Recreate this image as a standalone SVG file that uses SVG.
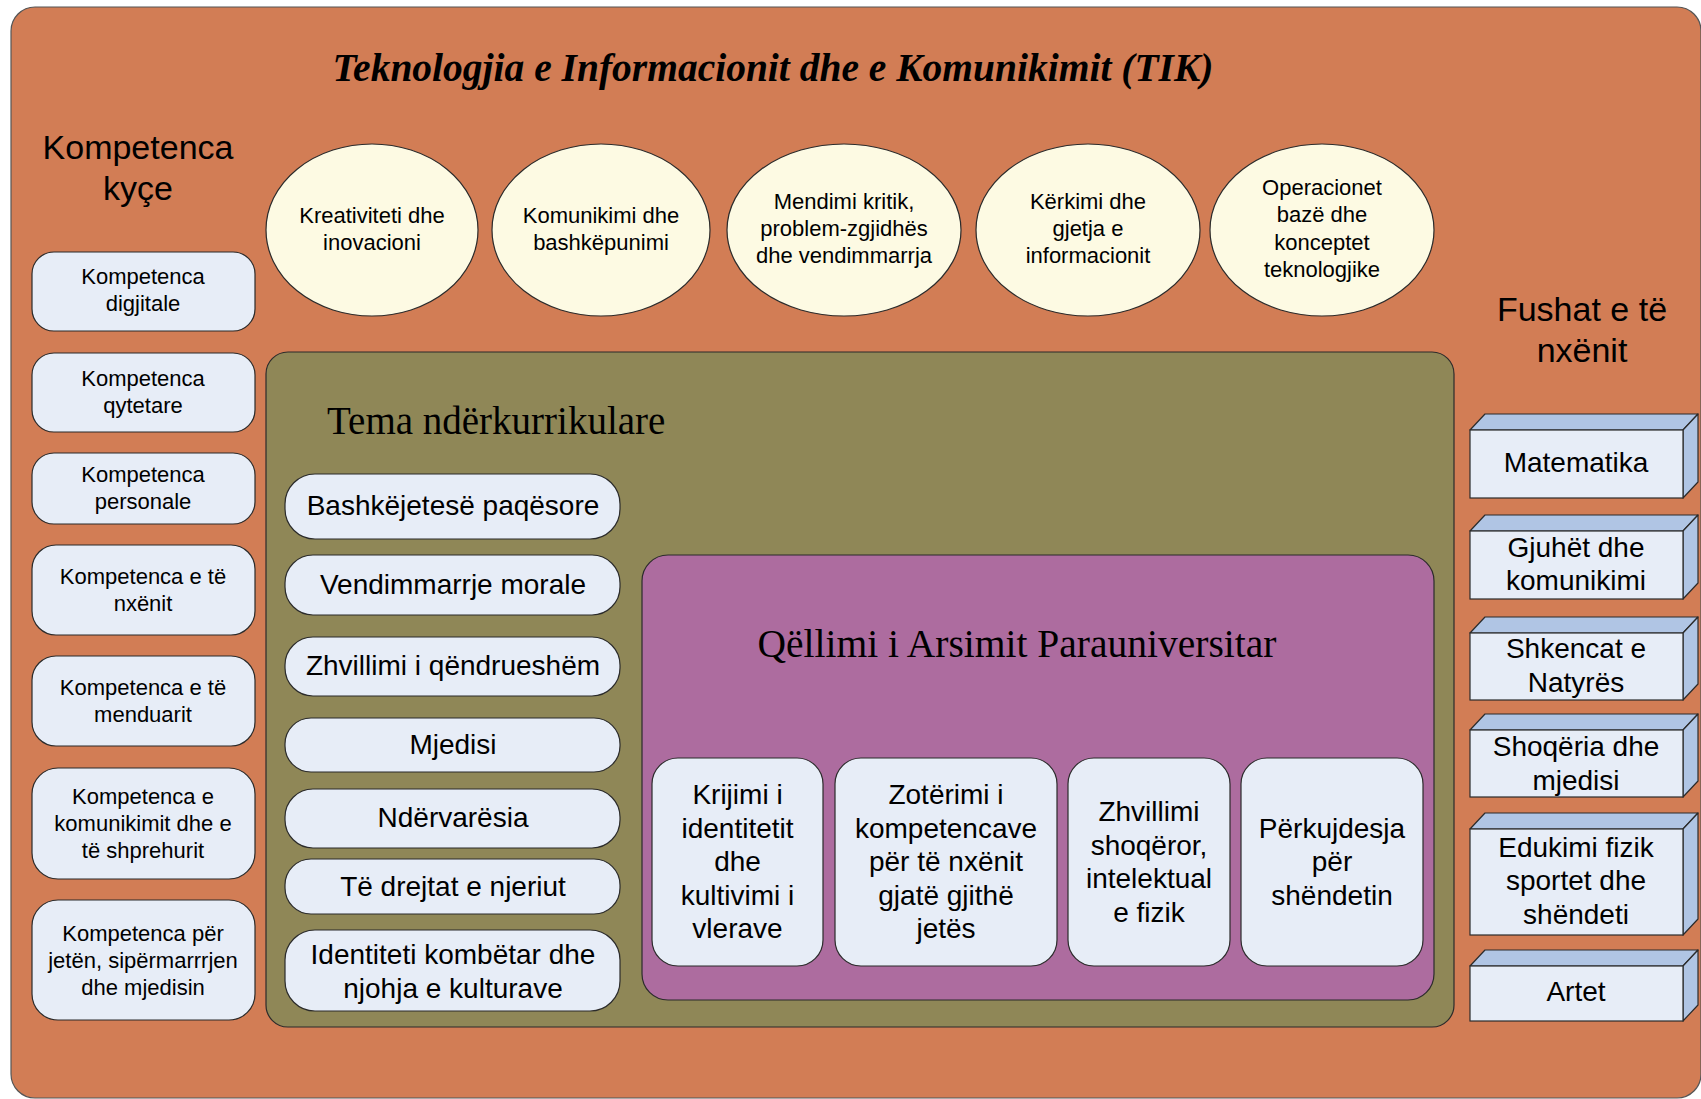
<svg xmlns="http://www.w3.org/2000/svg" width="1701" height="1099" viewBox="0 0 1701 1099">
<style>
.s{font-family:"Liberation Sans",Arial,sans-serif;fill:#000;text-anchor:middle}
.f22{font-size:22px}
.f28{font-size:28px}
.f34{font-size:34px}
.serif{font-family:"Liberation Serif","Times New Roman",serif;fill:#000}
.lb{fill:#E7EDF7;stroke:#2b2b2b;stroke-width:1.2}
.el{fill:#FDFAE3;stroke:#2b2b2b;stroke-width:1.2}
.bx{fill:#B0C5E4;stroke:#2b2b2b;stroke-width:1.2;stroke-linejoin:round}
</style>
<rect width="1701" height="1099" fill="#ffffff"/>
<g id="outer">
<rect x="11" y="7" width="1690" height="1091" rx="24" fill="#D27D55" stroke="#555" stroke-width="1.2"/>
<text class="serif" x="773" y="81" font-size="39.5" font-weight="bold" font-style="italic" text-anchor="middle">Teknologjia e Informacionit dhe e Komunikimit (TIK)</text>
</g>
<g id="kompetenca-header">
<text class="s f34" x="138" y="159">Kompetenca</text>
<text class="s f34" x="138" y="200">kyçe</text>
</g>
<g id="fushat-header">
<text class="s f34" x="1582" y="321">Fushat e të</text>
<text class="s f34" x="1582" y="362">nxënit</text>
</g>
<g id="komp1"><rect class="lb" x="32" y="252" width="223" height="79" rx="22"/><text class="s f22" x="143" y="284">Kompetenca</text><text class="s f22" x="143" y="311">digjitale</text></g>
<g id="komp2"><rect class="lb" x="32" y="353" width="223" height="79" rx="22"/><text class="s f22" x="143" y="386">Kompetenca</text><text class="s f22" x="143" y="413">qytetare</text></g>
<g id="komp3"><rect class="lb" x="32" y="453" width="223" height="71" rx="22"/><text class="s f22" x="143" y="482">Kompetenca</text><text class="s f22" x="143" y="509">personale</text></g>
<g id="komp4"><rect class="lb" x="32" y="545" width="223" height="90" rx="24"/><text class="s f22" x="143" y="584">Kompetenca e të</text><text class="s f22" x="143" y="611">nxënit</text></g>
<g id="komp5"><rect class="lb" x="32" y="656" width="223" height="90" rx="24"/><text class="s f22" x="143" y="695">Kompetenca e të</text><text class="s f22" x="143" y="722">menduarit</text></g>
<g id="komp6"><rect class="lb" x="32" y="768" width="223" height="111" rx="26"/><text class="s f22" x="143" y="804">Kompetenca e</text><text class="s f22" x="143" y="831">komunikimit dhe e</text><text class="s f22" x="143" y="858">të shprehurit</text></g>
<g id="komp7"><rect class="lb" x="32" y="900" width="223" height="120" rx="26"/><text class="s f22" x="143" y="941">Kompetenca për</text><text class="s f22" x="143" y="968">jetën, sipërmarrrjen</text><text class="s f22" x="143" y="995">dhe mjedisin</text></g>
<g id="ell1"><ellipse class="el" cx="372" cy="230" rx="106" ry="86"/><text class="s f22" x="372" y="223">Kreativiteti dhe</text><text class="s f22" x="372" y="250">inovacioni</text></g>
<g id="ell2"><ellipse class="el" cx="601" cy="230" rx="109" ry="86"/><text class="s f22" x="601" y="223">Komunikimi dhe</text><text class="s f22" x="601" y="250">bashkëpunimi</text></g>
<g id="ell3"><ellipse class="el" cx="844" cy="230" rx="117" ry="86"/><text class="s f22" x="844" y="209">Mendimi kritik,</text><text class="s f22" x="844" y="236">problem-zgjidhës</text><text class="s f22" x="844" y="263">dhe vendimmarrja</text></g>
<g id="ell4"><ellipse class="el" cx="1088" cy="230" rx="112" ry="86"/><text class="s f22" x="1088" y="209">Kërkimi dhe</text><text class="s f22" x="1088" y="236">gjetja e</text><text class="s f22" x="1088" y="263">informacionit</text></g>
<g id="ell5"><ellipse class="el" cx="1322" cy="230" rx="112" ry="86"/><text class="s f22" x="1322" y="195">Operacionet</text><text class="s f22" x="1322" y="222">bazë dhe</text><text class="s f22" x="1322" y="250">konceptet</text><text class="s f22" x="1322" y="277">teknologjike</text></g>
<g id="tema">
<rect x="266" y="352" width="1188" height="675" rx="22" fill="#8F8757" stroke="#2b2b2b" stroke-width="1.2"/>
<text class="serif" x="327" y="434" font-size="39">Tema ndërkurrikulare</text>
</g>
<g id="tema1"><rect class="lb" x="285" y="474" width="335" height="65" rx="30"/><text class="s f28" x="453" y="515">Bashkëjetesë paqësore</text></g>
<g id="tema2"><rect class="lb" x="285" y="555" width="335" height="60" rx="28"/><text class="s f28" x="453" y="594">Vendimmarrje morale</text></g>
<g id="tema3"><rect class="lb" x="285" y="637" width="335" height="59" rx="28"/><text class="s f28" x="453" y="675">Zhvillimi i qëndrueshëm</text></g>
<g id="tema4"><rect class="lb" x="285" y="718" width="335" height="54" rx="26"/><text class="s f28" x="453" y="754">Mjedisi</text></g>
<g id="tema5"><rect class="lb" x="285" y="789" width="335" height="59" rx="28"/><text class="s f28" x="453" y="827">Ndërvarësia</text></g>
<g id="tema6"><rect class="lb" x="285" y="859" width="335" height="55" rx="26"/><text class="s f28" x="453" y="896">Të drejtat e njeriut</text></g>
<g id="tema7"><rect class="lb" x="285" y="930" width="335" height="81" rx="30"/><text class="s f28" x="453" y="964">Identiteti kombëtar dhe</text><text class="s f28" x="453" y="998">njohja e kulturave</text></g>
<g id="qellimi">
<rect x="642" y="555" width="792" height="445" rx="26" fill="#AD6C9F" stroke="#2b2b2b" stroke-width="1.2"/>
<text class="serif" x="1017" y="657" font-size="39.5" text-anchor="middle">Qëllimi i Arsimit Parauniversitar</text>
</g>
<g id="q1"><rect class="lb" x="652" y="758" width="171" height="208" rx="26"/><text class="s f28" x="737.5" y="804">Krijimi i</text><text class="s f28" x="737.5" y="838">identitetit</text><text class="s f28" x="737.5" y="871">dhe</text><text class="s f28" x="737.5" y="905">kultivimi i</text><text class="s f28" x="737.5" y="938">vlerave</text></g>
<g id="q2"><rect class="lb" x="835" y="758" width="222" height="208" rx="26"/><text class="s f28" x="946" y="804">Zotërimi i</text><text class="s f28" x="946" y="838">kompetencave</text><text class="s f28" x="946" y="871">për të nxënit</text><text class="s f28" x="946" y="905">gjatë gjithë</text><text class="s f28" x="946" y="938">jetës</text></g>
<g id="q3"><rect class="lb" x="1068" y="758" width="162" height="208" rx="26"/><text class="s f28" x="1149" y="821">Zhvillimi</text><text class="s f28" x="1149" y="855">shoqëror,</text><text class="s f28" x="1149" y="888">intelektual</text><text class="s f28" x="1149" y="922">e fizik</text></g>
<g id="q4"><rect class="lb" x="1241" y="758" width="182" height="208" rx="26"/><text class="s f28" x="1332" y="838">Përkujdesja</text><text class="s f28" x="1332" y="871">për</text><text class="s f28" x="1332" y="905">shëndetin</text></g>
<g id="f1"><polygon class="bx" points="1470,430 1485,414 1698,414 1683,430"/><polygon class="bx" points="1683,430 1698,414 1698,482 1683,498"/><rect class="lb" x="1470" y="430" width="213" height="68"/><text class="s f28" x="1576" y="472">Matematika</text></g>
<g id="f2"><polygon class="bx" points="1470,531 1485,515 1698,515 1683,531"/><polygon class="bx" points="1683,531 1698,515 1698,583 1683,599"/><rect class="lb" x="1470" y="531" width="213" height="68"/><text class="s f28" x="1576" y="557">Gjuhët dhe</text><text class="s f28" x="1576" y="590">komunikimi</text></g>
<g id="f3"><polygon class="bx" points="1470,633 1485,617 1698,617 1683,633"/><polygon class="bx" points="1683,633 1698,617 1698,684 1683,700"/><rect class="lb" x="1470" y="633" width="213" height="67"/><text class="s f28" x="1576" y="658">Shkencat e</text><text class="s f28" x="1576" y="692">Natyrës</text></g>
<g id="f4"><polygon class="bx" points="1470,730 1485,714 1698,714 1683,730"/><polygon class="bx" points="1683,730 1698,714 1698,781 1683,797"/><rect class="lb" x="1470" y="730" width="213" height="67"/><text class="s f28" x="1576" y="756">Shoqëria dhe</text><text class="s f28" x="1576" y="790">mjedisi</text></g>
<g id="f5"><polygon class="bx" points="1470,829 1485,813 1698,813 1683,829"/><polygon class="bx" points="1683,829 1698,813 1698,919 1683,935"/><rect class="lb" x="1470" y="829" width="213" height="106"/><text class="s f28" x="1576" y="857">Edukimi fizik</text><text class="s f28" x="1576" y="890">sportet dhe</text><text class="s f28" x="1576" y="924">shëndeti</text></g>
<g id="f6"><polygon class="bx" points="1470,966 1485,950 1698,950 1683,966"/><polygon class="bx" points="1683,966 1698,950 1698,1005 1683,1021"/><rect class="lb" x="1470" y="966" width="213" height="55"/><text class="s f28" x="1576" y="1001">Artet</text></g>
<g id="connectors"></g>
</svg>
